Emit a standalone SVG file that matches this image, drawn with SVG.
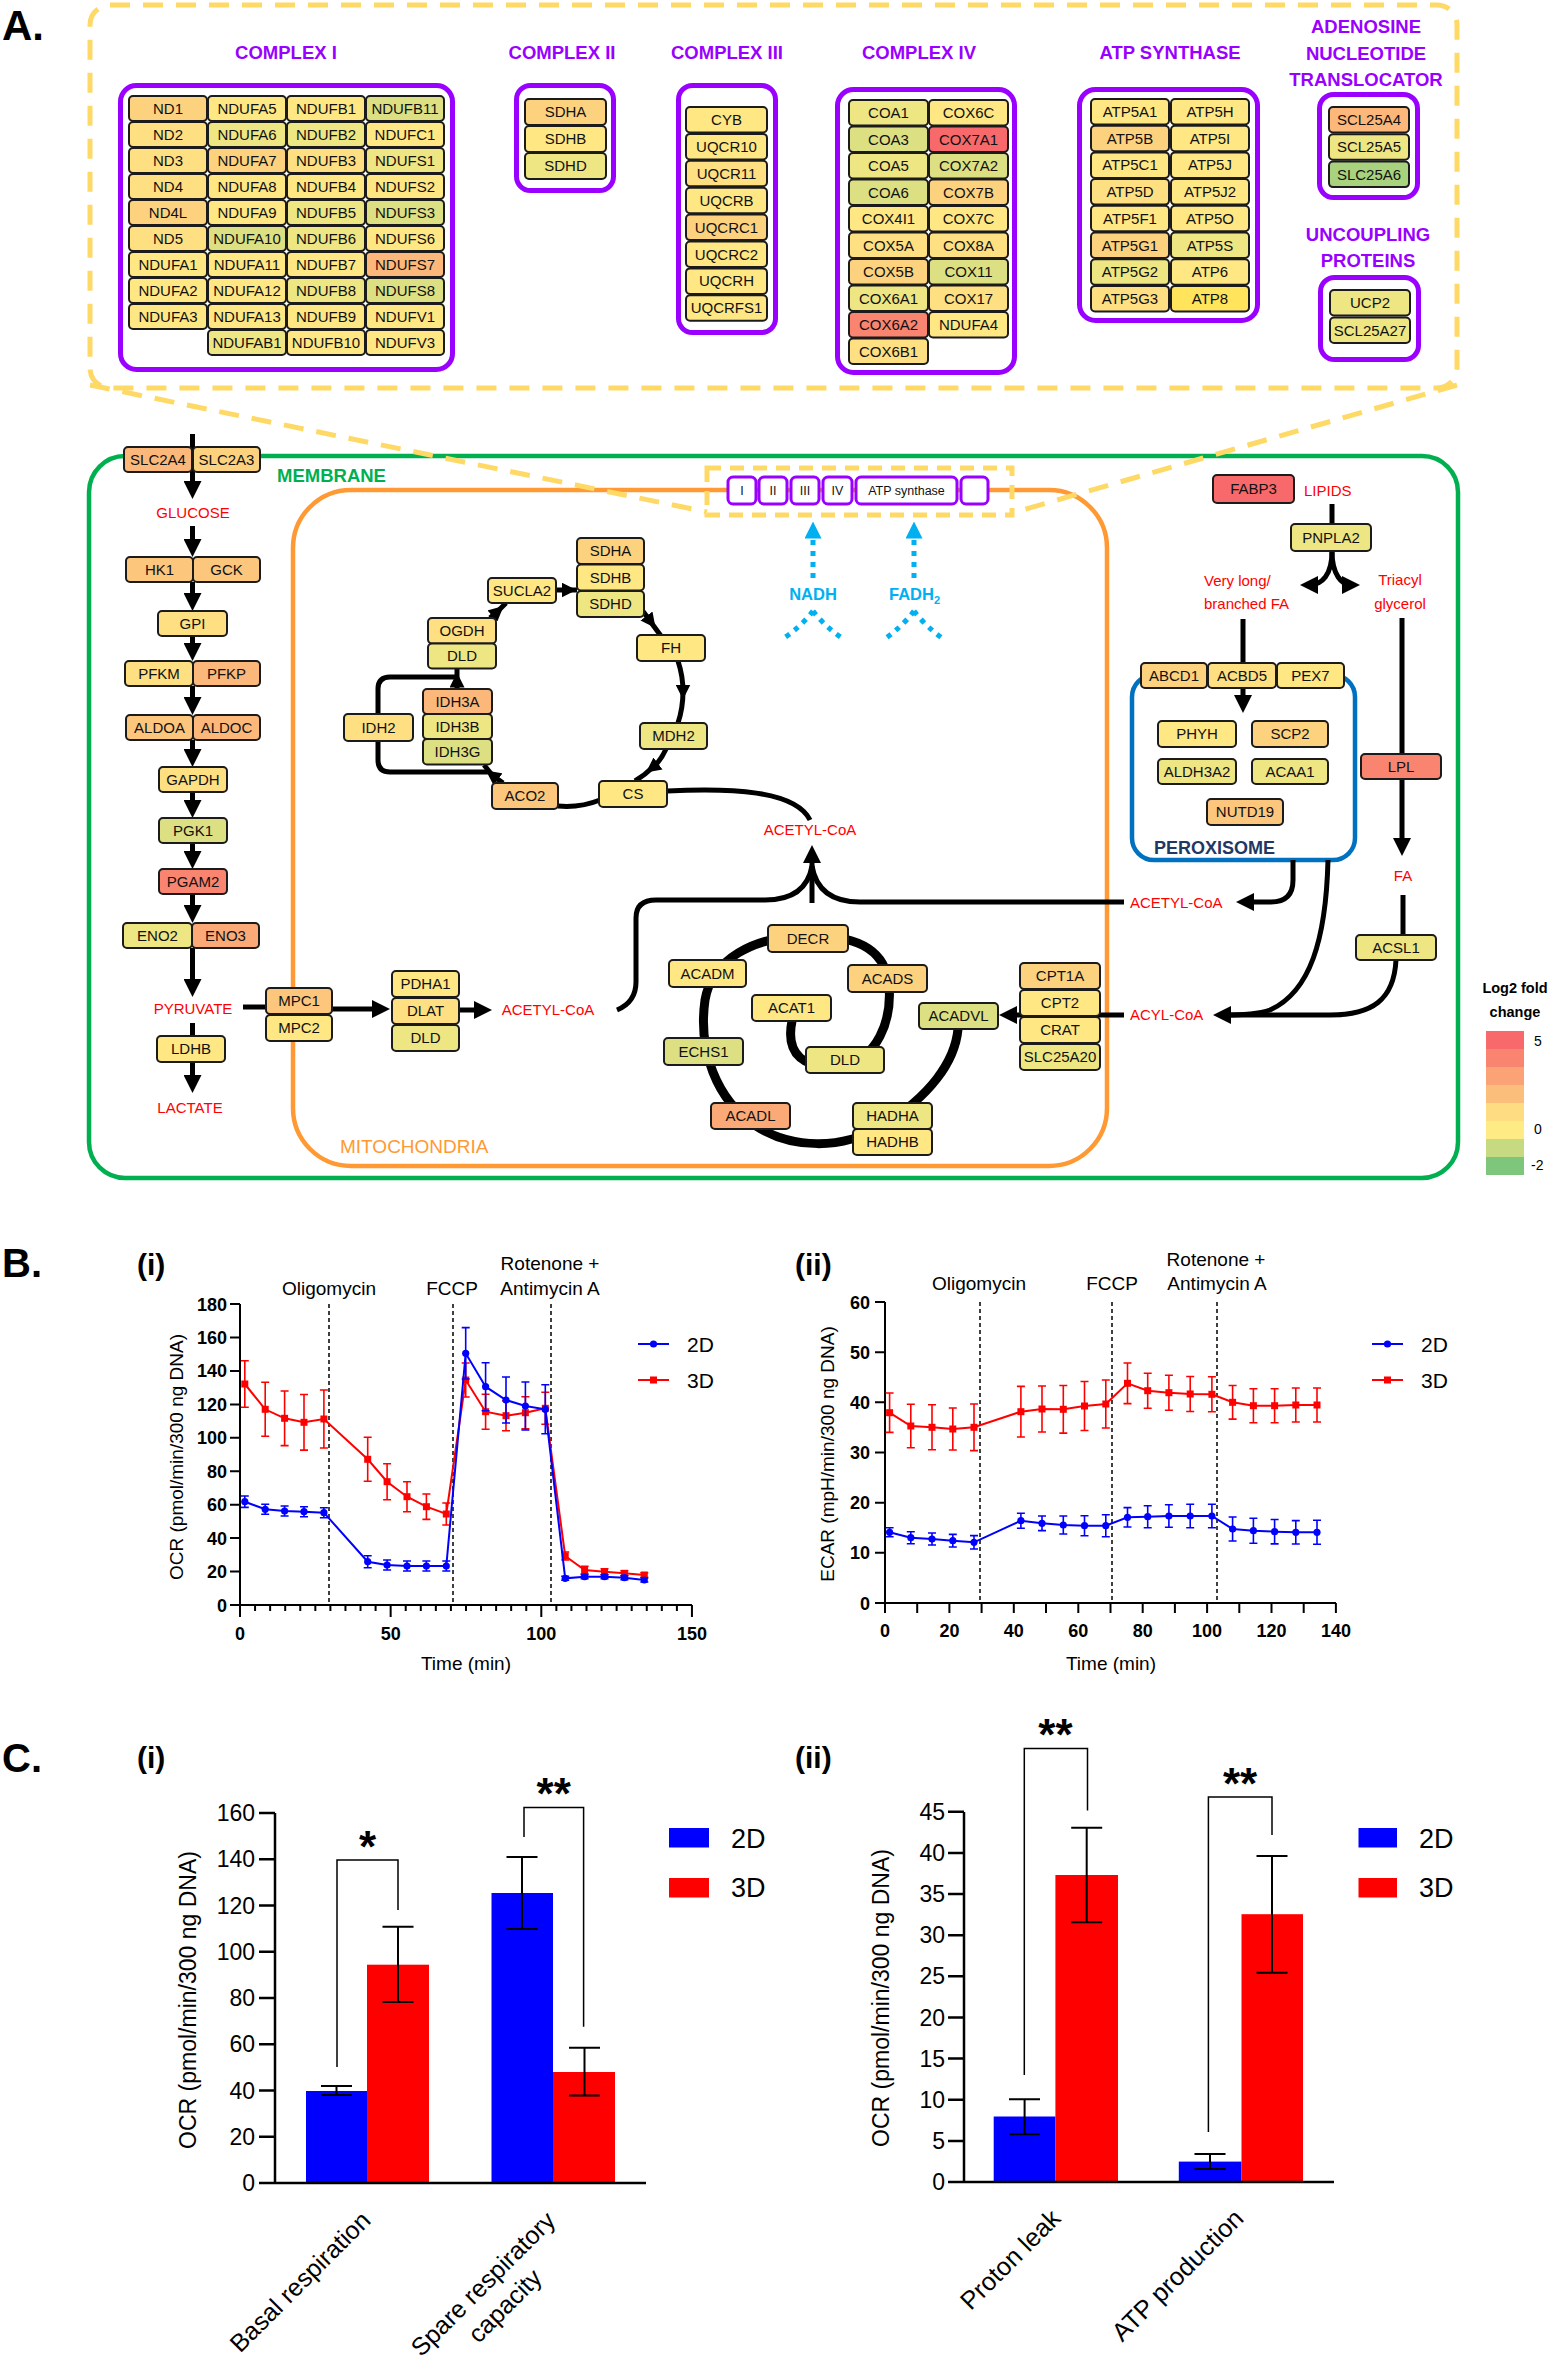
<svg xmlns="http://www.w3.org/2000/svg" xmlns:xlink="http://www.w3.org/1999/xlink" width="1554" height="2361" viewBox="0 0 1554 2361">
<defs>
<marker id="ah" viewBox="0 0 10 10" refX="5" refY="5" markerWidth="18" markerHeight="18" markerUnits="userSpaceOnUse" orient="auto"><path d="M0,0L10,5L0,10z" fill="#000"/></marker>
<marker id="as" viewBox="0 0 10 10" refX="5" refY="5" markerWidth="15" markerHeight="15" markerUnits="userSpaceOnUse" orient="auto"><path d="M0,0L10,5L0,10z" fill="#000"/></marker>
<marker id="bh" viewBox="0 0 10 10" refX="5" refY="5" markerWidth="17" markerHeight="17" markerUnits="userSpaceOnUse" orient="auto"><path d="M0,0L10,5L0,10z" fill="#00B0F0"/></marker>
<rect id="sq" x="-3.5" y="-3.5" width="7" height="7"/>
<circle id="dot" cx="0" cy="0" r="3.6"/>
</defs>
<style>
text{font-family:'Liberation Sans',Arial,sans-serif}
.cell rect{stroke:#1b1b1b;stroke-width:2}
.cell text{font-size:15px;text-anchor:middle;fill:#111}
.Y{fill:#FFE784}.Y2{fill:#FEDF81}.L{fill:#FDD27F}.L2{fill:#FCC67D}.O{fill:#FCB87A}.O2{fill:#FBAA77}.S{fill:#F98570}.R{fill:#F8696B}.G1{fill:#EEE583}.G2{fill:#DCE083}.G4{fill:#A9D27F}.Y3{fill:#FFE45C}
.pbox{fill:none;stroke:#9900FF;stroke-width:5}
.hd{font-weight:bold;font-size:18.5px;fill:#9900FF;text-anchor:middle}
.m{font-size:15px;fill:#FF0000}
.k{fill:none;stroke:#000;stroke-width:5}
.kd{fill:none;stroke:#000;stroke-width:5;marker-end:url(#ah)}
.ks{fill:none;stroke:#000;stroke-width:5;marker-end:url(#as)}
.bd{fill:none;stroke:#00B0F0;stroke-width:5;stroke-dasharray:5 6}
.yd{fill:none;stroke:#FFD966;stroke-width:5;stroke-dasharray:20 13}
.etc rect{fill:#fff;stroke:#9900FF;stroke-width:3}
.etc text{font-size:12.5px;text-anchor:middle;fill:#111}
.ax{fill:none;stroke:#000;stroke-width:2}
.tk{font-size:18px;font-weight:bold;fill:#000}
.an{font-size:19px;fill:#000;text-anchor:middle}
.ct{font-size:23px;fill:#000;text-anchor:end}
</style>
<rect width="1554" height="2361" fill="#fff"/>

<!-- Panel A top zoom box -->
<text x="2" y="40" font-size="42" font-weight="bold">A.</text>
<rect class="yd" x="90" y="5" width="1367" height="383" rx="20"/>

<g id="complex-I">
<text class="hd" x="286" y="59">COMPLEX I</text>
<rect class="pbox" x="120.5" y="85.5" width="332" height="284" rx="16"/>
<g id="n-ND1" class="cell"><rect class="L" x="129" y="96" width="78" height="25" rx="4"/><text x="168" y="113.5">ND1</text></g>
<g id="n-NDUFA5" class="cell"><rect class="Y" x="208" y="96" width="78" height="25" rx="4"/><text x="247" y="113.5">NDUFA5</text></g>
<g id="n-NDUFB1" class="cell"><rect class="Y" x="287" y="96" width="78" height="25" rx="4"/><text x="326" y="113.5">NDUFB1</text></g>
<g id="n-NDUFB11" class="cell"><rect class="G2" x="366" y="96" width="78" height="25" rx="4"/><text x="405" y="113.5">NDUFB11</text></g>
<g id="n-ND2" class="cell"><rect class="Y2" x="129" y="122" width="78" height="25" rx="4"/><text x="168" y="139.5">ND2</text></g>
<g id="n-NDUFA6" class="cell"><rect class="G1" x="208" y="122" width="78" height="25" rx="4"/><text x="247" y="139.5">NDUFA6</text></g>
<g id="n-NDUFB2" class="cell"><rect class="G1" x="287" y="122" width="78" height="25" rx="4"/><text x="326" y="139.5">NDUFB2</text></g>
<g id="n-NDUFC1" class="cell"><rect class="Y" x="366" y="122" width="78" height="25" rx="4"/><text x="405" y="139.5">NDUFC1</text></g>
<g id="n-ND3" class="cell"><rect class="Y2" x="129" y="148" width="78" height="25" rx="4"/><text x="168" y="165.5">ND3</text></g>
<g id="n-NDUFA7" class="cell"><rect class="L" x="208" y="148" width="78" height="25" rx="4"/><text x="247" y="165.5">NDUFA7</text></g>
<g id="n-NDUFB3" class="cell"><rect class="Y2" x="287" y="148" width="78" height="25" rx="4"/><text x="326" y="165.5">NDUFB3</text></g>
<g id="n-NDUFS1" class="cell"><rect class="G1" x="366" y="148" width="78" height="25" rx="4"/><text x="405" y="165.5">NDUFS1</text></g>
<g id="n-ND4" class="cell"><rect class="Y2" x="129" y="174" width="78" height="25" rx="4"/><text x="168" y="191.5">ND4</text></g>
<g id="n-NDUFA8" class="cell"><rect class="Y" x="208" y="174" width="78" height="25" rx="4"/><text x="247" y="191.5">NDUFA8</text></g>
<g id="n-NDUFB4" class="cell"><rect class="Y" x="287" y="174" width="78" height="25" rx="4"/><text x="326" y="191.5">NDUFB4</text></g>
<g id="n-NDUFS2" class="cell"><rect class="Y" x="366" y="174" width="78" height="25" rx="4"/><text x="405" y="191.5">NDUFS2</text></g>
<g id="n-ND4L" class="cell"><rect class="L" x="129" y="200" width="78" height="25" rx="4"/><text x="168" y="217.5">ND4L</text></g>
<g id="n-NDUFA9" class="cell"><rect class="Y" x="208" y="200" width="78" height="25" rx="4"/><text x="247" y="217.5">NDUFA9</text></g>
<g id="n-NDUFB5" class="cell"><rect class="G1" x="287" y="200" width="78" height="25" rx="4"/><text x="326" y="217.5">NDUFB5</text></g>
<g id="n-NDUFS3" class="cell"><rect class="G2" x="366" y="200" width="78" height="25" rx="4"/><text x="405" y="217.5">NDUFS3</text></g>
<g id="n-ND5" class="cell"><rect class="Y2" x="129" y="226" width="78" height="25" rx="4"/><text x="168" y="243.5">ND5</text></g>
<g id="n-NDUFA10" class="cell"><rect class="G2" x="208" y="226" width="78" height="25" rx="4"/><text x="247" y="243.5">NDUFA10</text></g>
<g id="n-NDUFB6" class="cell"><rect class="G1" x="287" y="226" width="78" height="25" rx="4"/><text x="326" y="243.5">NDUFB6</text></g>
<g id="n-NDUFS6" class="cell"><rect class="Y" x="366" y="226" width="78" height="25" rx="4"/><text x="405" y="243.5">NDUFS6</text></g>
<g id="n-NDUFA1" class="cell"><rect class="Y" x="129" y="252" width="78" height="25" rx="4"/><text x="168" y="269.5">NDUFA1</text></g>
<g id="n-NDUFA11" class="cell"><rect class="Y" x="208" y="252" width="78" height="25" rx="4"/><text x="247" y="269.5">NDUFA11</text></g>
<g id="n-NDUFB7" class="cell"><rect class="Y" x="287" y="252" width="78" height="25" rx="4"/><text x="326" y="269.5">NDUFB7</text></g>
<g id="n-NDUFS7" class="cell"><rect class="O" x="366" y="252" width="78" height="25" rx="4"/><text x="405" y="269.5">NDUFS7</text></g>
<g id="n-NDUFA2" class="cell"><rect class="Y" x="129" y="278" width="78" height="25" rx="4"/><text x="168" y="295.5">NDUFA2</text></g>
<g id="n-NDUFA12" class="cell"><rect class="Y" x="208" y="278" width="78" height="25" rx="4"/><text x="247" y="295.5">NDUFA12</text></g>
<g id="n-NDUFB8" class="cell"><rect class="G1" x="287" y="278" width="78" height="25" rx="4"/><text x="326" y="295.5">NDUFB8</text></g>
<g id="n-NDUFS8" class="cell"><rect class="G2" x="366" y="278" width="78" height="25" rx="4"/><text x="405" y="295.5">NDUFS8</text></g>
<g id="n-NDUFA3" class="cell"><rect class="Y" x="129" y="304" width="78" height="25" rx="4"/><text x="168" y="321.5">NDUFA3</text></g>
<g id="n-NDUFA13" class="cell"><rect class="Y" x="208" y="304" width="78" height="25" rx="4"/><text x="247" y="321.5">NDUFA13</text></g>
<g id="n-NDUFB9" class="cell"><rect class="Y" x="287" y="304" width="78" height="25" rx="4"/><text x="326" y="321.5">NDUFB9</text></g>
<g id="n-NDUFV1" class="cell"><rect class="Y" x="366" y="304" width="78" height="25" rx="4"/><text x="405" y="321.5">NDUFV1</text></g>
<g id="n-NDUFAB1" class="cell"><rect class="G1" x="208" y="330" width="78" height="25" rx="4"/><text x="247" y="347.5">NDUFAB1</text></g>
<g id="n-NDUFB10" class="cell"><rect class="Y" x="287" y="330" width="78" height="25" rx="4"/><text x="326" y="347.5">NDUFB10</text></g>
<g id="n-NDUFV3" class="cell"><rect class="Y" x="366" y="330" width="78" height="25" rx="4"/><text x="405" y="347.5">NDUFV3</text></g>
</g>

<g id="complex-II">
<text class="hd" x="562" y="59">COMPLEX II</text>
<rect class="pbox" x="516.5" y="85.5" width="97" height="105" rx="14"/>
<g id="n-SDHA-c" class="cell"><rect class="L" x="525" y="99" width="81" height="26" rx="4"/><text x="565.5" y="117">SDHA</text></g>
<g id="n-SDHB-c" class="cell"><rect class="Y" x="525" y="126" width="81" height="26" rx="4"/><text x="565.5" y="144">SDHB</text></g>
<g id="n-SDHD-c" class="cell"><rect class="G1" x="525" y="153" width="81" height="26" rx="4"/><text x="565.5" y="171">SDHD</text></g>
</g>

<g id="complex-III">
<text class="hd" x="727" y="59">COMPLEX III</text>
<rect class="pbox" x="678.5" y="85.5" width="97" height="247" rx="14"/>
<g id="n-CYB" class="cell"><rect class="Y" x="686" y="107" width="81" height="25.5" rx="4"/><text x="726.5" y="125">CYB</text></g>
<g id="n-UQCR10" class="cell"><rect class="Y" x="686" y="133.9" width="81" height="25.5" rx="4"/><text x="726.5" y="151.9">UQCR10</text></g>
<g id="n-UQCR11" class="cell"><rect class="Y2" x="686" y="160.8" width="81" height="25.5" rx="4"/><text x="726.5" y="178.8">UQCR11</text></g>
<g id="n-UQCRB" class="cell"><rect class="Y" x="686" y="187.7" width="81" height="25.5" rx="4"/><text x="726.5" y="205.7">UQCRB</text></g>
<g id="n-UQCRC1" class="cell"><rect class="L" x="686" y="214.6" width="81" height="25.5" rx="4"/><text x="726.5" y="232.6">UQCRC1</text></g>
<g id="n-UQCRC2" class="cell"><rect class="Y" x="686" y="241.5" width="81" height="25.5" rx="4"/><text x="726.5" y="259.5">UQCRC2</text></g>
<g id="n-UQCRH" class="cell"><rect class="Y" x="686" y="268.4" width="81" height="25.5" rx="4"/><text x="726.5" y="286.4">UQCRH</text></g>
<g id="n-UQCRFS1" class="cell"><rect class="Y" x="686" y="295.3" width="81" height="25.5" rx="4"/><text x="726.5" y="313.3">UQCRFS1</text></g>
</g>

<g id="complex-IV">
<text class="hd" x="919" y="59">COMPLEX IV</text>
<rect class="pbox" x="837.5" y="89.5" width="177" height="283" rx="16"/>
<g id="n-COA1" class="cell"><rect class="G1" x="849" y="100" width="79" height="25.5" rx="4"/><text x="888.5" y="118">COA1</text></g>
<g id="n-COX6C" class="cell"><rect class="Y" x="929" y="100" width="79" height="25.5" rx="4"/><text x="968.5" y="118">COX6C</text></g>
<g id="n-COA3" class="cell"><rect class="G2" x="849" y="126.5" width="79" height="25.5" rx="4"/><text x="888.5" y="144.5">COA3</text></g>
<g id="n-COX7A1" class="cell"><rect class="R" x="929" y="126.5" width="79" height="25.5" rx="4"/><text x="968.5" y="144.5">COX7A1</text></g>
<g id="n-COA5" class="cell"><rect class="G1" x="849" y="153" width="79" height="25.5" rx="4"/><text x="888.5" y="171">COA5</text></g>
<g id="n-COX7A2" class="cell"><rect class="G2" x="929" y="153" width="79" height="25.5" rx="4"/><text x="968.5" y="171">COX7A2</text></g>
<g id="n-COA6" class="cell"><rect class="G2" x="849" y="179.5" width="79" height="25.5" rx="4"/><text x="888.5" y="197.5">COA6</text></g>
<g id="n-COX7B" class="cell"><rect class="L" x="929" y="179.5" width="79" height="25.5" rx="4"/><text x="968.5" y="197.5">COX7B</text></g>
<g id="n-COX4I1" class="cell"><rect class="Y" x="849" y="206" width="79" height="25.5" rx="4"/><text x="888.5" y="224">COX4I1</text></g>
<g id="n-COX7C" class="cell"><rect class="Y" x="929" y="206" width="79" height="25.5" rx="4"/><text x="968.5" y="224">COX7C</text></g>
<g id="n-COX5A" class="cell"><rect class="Y2" x="849" y="232.5" width="79" height="25.5" rx="4"/><text x="888.5" y="250.5">COX5A</text></g>
<g id="n-COX8A" class="cell"><rect class="Y2" x="929" y="232.5" width="79" height="25.5" rx="4"/><text x="968.5" y="250.5">COX8A</text></g>
<g id="n-COX5B" class="cell"><rect class="L" x="849" y="259" width="79" height="25.5" rx="4"/><text x="888.5" y="277">COX5B</text></g>
<g id="n-COX11" class="cell"><rect class="G2" x="929" y="259" width="79" height="25.5" rx="4"/><text x="968.5" y="277">COX11</text></g>
<g id="n-COX6A1" class="cell"><rect class="G1" x="849" y="285.5" width="79" height="25.5" rx="4"/><text x="888.5" y="303.5">COX6A1</text></g>
<g id="n-COX17" class="cell"><rect class="Y2" x="929" y="285.5" width="79" height="25.5" rx="4"/><text x="968.5" y="303.5">COX17</text></g>
<g id="n-COX6A2" class="cell"><rect class="S" x="849" y="312" width="79" height="25.5" rx="4"/><text x="888.5" y="330">COX6A2</text></g>
<g id="n-NDUFA4" class="cell"><rect class="Y" x="929" y="312" width="79" height="25.5" rx="4"/><text x="968.5" y="330">NDUFA4</text></g>
<g id="n-COX6B1" class="cell"><rect class="Y2" x="849" y="338.5" width="79" height="25.5" rx="4"/><text x="888.5" y="356.5">COX6B1</text></g>
</g>

<g id="atp-synthase">
<text class="hd" x="1170" y="59">ATP SYNTHASE</text>
<rect class="pbox" x="1079.5" y="89.5" width="178" height="231" rx="16"/>
<g id="n-ATP5A1" class="cell"><rect class="Y" x="1091" y="99" width="78" height="25.5" rx="4"/><text x="1130" y="117">ATP5A1</text></g>
<g id="n-ATP5H" class="cell"><rect class="Y" x="1171" y="99" width="78" height="25.5" rx="4"/><text x="1210" y="117">ATP5H</text></g>
<g id="n-ATP5B" class="cell"><rect class="L" x="1091" y="125.7" width="78" height="25.5" rx="4"/><text x="1130" y="143.7">ATP5B</text></g>
<g id="n-ATP5I" class="cell"><rect class="Y" x="1171" y="125.7" width="78" height="25.5" rx="4"/><text x="1210" y="143.7">ATP5I</text></g>
<g id="n-ATP5C1" class="cell"><rect class="Y" x="1091" y="152.4" width="78" height="25.5" rx="4"/><text x="1130" y="170.4">ATP5C1</text></g>
<g id="n-ATP5J" class="cell"><rect class="Y" x="1171" y="152.4" width="78" height="25.5" rx="4"/><text x="1210" y="170.4">ATP5J</text></g>
<g id="n-ATP5D" class="cell"><rect class="Y2" x="1091" y="179.1" width="78" height="25.5" rx="4"/><text x="1130" y="197.1">ATP5D</text></g>
<g id="n-ATP5J2" class="cell"><rect class="Y" x="1171" y="179.1" width="78" height="25.5" rx="4"/><text x="1210" y="197.1">ATP5J2</text></g>
<g id="n-ATP5F1" class="cell"><rect class="Y" x="1091" y="205.8" width="78" height="25.5" rx="4"/><text x="1130" y="223.8">ATP5F1</text></g>
<g id="n-ATP5O" class="cell"><rect class="Y" x="1171" y="205.8" width="78" height="25.5" rx="4"/><text x="1210" y="223.8">ATP5O</text></g>
<g id="n-ATP5G1" class="cell"><rect class="L" x="1091" y="232.5" width="78" height="25.5" rx="4"/><text x="1130" y="250.5">ATP5G1</text></g>
<g id="n-ATP5S" class="cell"><rect class="G1" x="1171" y="232.5" width="78" height="25.5" rx="4"/><text x="1210" y="250.5">ATP5S</text></g>
<g id="n-ATP5G2" class="cell"><rect class="G1" x="1091" y="259.2" width="78" height="25.5" rx="4"/><text x="1130" y="277.2">ATP5G2</text></g>
<g id="n-ATP6" class="cell"><rect class="Y" x="1171" y="259.2" width="78" height="25.5" rx="4"/><text x="1210" y="277.2">ATP6</text></g>
<g id="n-ATP5G3" class="cell"><rect class="Y2" x="1091" y="285.9" width="78" height="25.5" rx="4"/><text x="1130" y="303.9">ATP5G3</text></g>
<g id="n-ATP8" class="cell"><rect class="Y3" x="1171" y="285.9" width="78" height="25.5" rx="4"/><text x="1210" y="303.9">ATP8</text></g>
</g>

<g id="ant">
<text class="hd" x="1366" y="33">ADENOSINE</text>
<text class="hd" x="1366" y="60">NUCLEOTIDE</text>
<text class="hd" x="1366" y="86">TRANSLOCATOR</text>
<rect class="pbox" x="1319.5" y="94.5" width="98" height="103" rx="14"/>
<g id="n-SCL25A4" class="cell"><rect class="O" x="1329" y="107" width="80" height="25.5" rx="4"/><text x="1369" y="125">SCL25A4</text></g>
<g id="n-SCL25A5" class="cell"><rect class="G1" x="1329" y="134.3" width="80" height="25.5" rx="4"/><text x="1369" y="152.3">SCL25A5</text></g>
<g id="n-SLC25A6" class="cell"><rect class="G4" x="1329" y="161.6" width="80" height="25.5" rx="4"/><text x="1369" y="179.6">SLC25A6</text></g>
</g>

<g id="ucp">
<text class="hd" x="1368" y="241">UNCOUPLING</text>
<text class="hd" x="1368" y="267">PROTEINS</text>
<rect class="pbox" x="1320.5" y="277.5" width="98" height="82" rx="14"/>
<g id="n-UCP2" class="cell"><rect class="G1" x="1330" y="290" width="80" height="25.5" rx="4"/><text x="1370" y="308">UCP2</text></g>
<g id="n-SCL25A27" class="cell"><rect class="G1" x="1330" y="317.5" width="80" height="25.5" rx="4"/><text x="1370" y="335.5">SCL25A27</text></g>
</g>

<!-- compartments -->
<g id="membrane">
<rect x="89" y="456" width="1369" height="722" rx="36" fill="none" stroke="#00B050" stroke-width="4.5"/>
<text x="277" y="482" font-size="18.5" font-weight="bold" fill="#00B050">MEMBRANE</text>
</g>
<g id="mitochondria">
<rect x="293" y="490" width="814" height="676" rx="58" fill="none" stroke="#FF9933" stroke-width="4.5"/>
<text x="340" y="1153" font-size="19" fill="#FF9933">MITOCHONDRIA</text>
</g>
<g id="peroxisome">
<rect x="1132" y="675" width="223" height="185" rx="22" fill="none" stroke="#0070C0" stroke-width="4.5"/>
<text x="1154" y="854" font-size="18" font-weight="bold" fill="#1F3864">PEROXISOME</text>
</g>

<!-- connectors -->
<g id="connectors">
<path class="kd" d="M192.5,434V490"/>
<path class="kd" d="M192.5,526V548"/>
<path class="kd" d="M192.5,582V602"/>
<path class="kd" d="M192.5,636V652"/>
<path class="kd" d="M192.5,686V706"/>
<path class="kd" d="M192.5,740V758"/>
<path class="kd" d="M192.5,792V809"/>
<path class="kd" d="M192.5,843V860"/>
<path class="kd" d="M192.5,894V914"/>
<path class="kd" d="M192.5,948V988"/>
<path class="k" d="M192.5,1023V1036"/>
<path class="kd" d="M192.5,1062V1084"/>
<path class="k" d="M243,1007H266"/>
<path class="kd" d="M332,1009H381"/>
<path class="kd" d="M459,1010H483"/>
<!-- TCA -->
<path class="ks" d="M556,590H569"/><path class="k" d="M568,590H577"/>
<path class="ks" d="M642,610L651,622"/><path class="k" d="M650,621L661,636"/>
<path class="ks" d="M678,661Q683,676 683,692"/><path class="k" d="M683,691Q683,708 678,723"/>
<path class="ks" d="M666,749Q660,762 652,768"/><path class="k" d="M653,767Q645,775 635,781"/>
<path class="k" d="M600,800Q580,808 558,806"/>
<path class="ks" d="M503,783L492,775"/><path class="k" d="M493,776L484,765"/>
<path class="ks" d="M457,690V680"/><path class="k" d="M457,681V668"/>
<path class="ks" d="M490,618L498,611"/><path class="k" d="M497,612L506,603"/>
<path class="k" d="M457,677H390Q378,677 378,689V760Q378,772 390,772H488"/>
<path class="k" d="M667,791C730,788 795,790 810,820"/>
<!-- beta oxidation spiral -->
<path fill="none" stroke="#000" stroke-width="9" d="M792,1021C785,1055 805,1070 840,1066C878,1060 892,1020 889,985C885,945 850,935 808,936C752,936 712,960 705,1000C698,1050 716,1100 756,1126C792,1149 842,1150 882,1126C930,1096 955,1062 958,1029"/>
<path class="k" d="M617,1010Q636,1002 636,982V918Q636,900 656,900H765Q806,900 812,866"/>
<path class="k" d="M812,866Q818,902 860,902H1124"/>
<path class="kd" d="M812,903V854"/>
<path class="kd" d="M1124,1015H1008"/>
<!-- lipids -->
<path class="k" d="M1332,504V524"/>
<path class="kd" d="M1332,551C1332,575 1322,585 1309,585"/>
<path class="kd" d="M1332,551C1332,575 1342,585 1351,585"/>
<path class="kd" d="M1243,619V704"/>
<path class="kd" d="M1402,618V847"/>
<path class="k" d="M1403,895V935"/>
<path class="kd" d="M1293,860V880Q1293,902 1271,902H1245"/>
<path class="k" d="M1396,960C1394,1000 1372,1015 1330,1015H1230"/>
<path class="kd" d="M1328,860C1326,940 1310,992 1270,1010Q1255,1015 1222,1015"/>
<!-- NADH / FADH2 -->
<path class="bd" d="M813,578V530" marker-end="url(#bh)"/>
<path class="bd" d="M813,611Q801,627 781,640M813,611Q825,627 845,640"/>
<path class="bd" d="M914,578V530" marker-end="url(#bh)"/>
<path class="bd" d="M914,611Q902,627 882,641M914,611Q926,627 946,641"/>
</g>

<!-- ETC in membrane -->
<g id="etc" class="etc">
<rect x="728" y="477" width="28" height="27" rx="5"/><text x="742" y="495">I</text>
<rect x="759" y="477" width="28" height="27" rx="5"/><text x="773" y="495">II</text>
<rect x="791" y="477" width="28" height="27" rx="5"/><text x="805" y="495">III</text>
<rect x="823" y="477" width="29" height="27" rx="5"/><text x="837.5" y="495">IV</text>
<rect x="856" y="477" width="101" height="27" rx="5"/><text x="906.5" y="495">ATP synthase</text>
<rect x="961" y="477" width="27" height="27" rx="5"/>
</g>

<!-- glycolysis nodes -->
<g id="n-SLC2A4" class="cell"><rect class="O" x="124" y="447" width="68" height="25" rx="4"/><text x="158" y="464.5">SLC2A4</text></g>
<g id="n-SLC2A3" class="cell"><rect class="L" x="193" y="447" width="67" height="25" rx="4"/><text x="226.5" y="464.5">SLC2A3</text></g>
<g id="n-HK1" class="cell"><rect class="L2" x="126" y="557" width="67" height="25" rx="4"/><text x="159.5" y="574.5">HK1</text></g>
<g id="n-GCK" class="cell"><rect class="L2" x="193" y="557" width="67" height="25" rx="4"/><text x="226.5" y="574.5">GCK</text></g>
<g id="n-GPI" class="cell"><rect class="Y2" x="158" y="611" width="69" height="25" rx="4"/><text x="192.5" y="628.5">GPI</text></g>
<g id="n-PFKM" class="cell"><rect class="Y2" x="125" y="661" width="68" height="25" rx="4"/><text x="159" y="678.5">PFKM</text></g>
<g id="n-PFKP" class="cell"><rect class="O" x="193" y="661" width="67" height="25" rx="4"/><text x="226.5" y="678.5">PFKP</text></g>
<g id="n-ALDOA" class="cell"><rect class="L2" x="126" y="715" width="67" height="25" rx="4"/><text x="159.5" y="732.5">ALDOA</text></g>
<g id="n-ALDOC" class="cell"><rect class="O" x="193" y="715" width="67" height="25" rx="4"/><text x="226.5" y="732.5">ALDOC</text></g>
<g id="n-GAPDH" class="cell"><rect class="Y2" x="159" y="767" width="68" height="25" rx="4"/><text x="193" y="784.5">GAPDH</text></g>
<g id="n-PGK1" class="cell"><rect class="G2" x="159" y="818" width="68" height="25" rx="4"/><text x="193" y="835.5">PGK1</text></g>
<g id="n-PGAM2" class="cell"><rect class="S" x="159" y="869" width="68" height="25" rx="4"/><text x="193" y="886.5">PGAM2</text></g>
<g id="n-ENO2" class="cell"><rect class="G1" x="123" y="923" width="69" height="25" rx="4"/><text x="157.5" y="940.5">ENO2</text></g>
<g id="n-ENO3" class="cell"><rect class="O2" x="192" y="923" width="67" height="25" rx="4"/><text x="225.5" y="940.5">ENO3</text></g>
<g id="n-LDHB" class="cell"><rect class="Y" x="157" y="1036" width="68" height="26" rx="4"/><text x="191" y="1054">LDHB</text></g>
<g id="n-MPC1" class="cell"><rect class="L2" x="266" y="988" width="66" height="26" rx="4"/><text x="299" y="1006">MPC1</text></g>
<g id="n-MPC2" class="cell"><rect class="Y" x="266" y="1015" width="66" height="26" rx="4"/><text x="299" y="1033">MPC2</text></g>
<g id="n-PDHA1" class="cell"><rect class="Y" x="392" y="971" width="67" height="26" rx="4"/><text x="425.5" y="989">PDHA1</text></g>
<g id="n-DLAT" class="cell"><rect class="Y2" x="392" y="998" width="67" height="26" rx="4"/><text x="425.5" y="1016">DLAT</text></g>
<g id="n-DLD-pdh" class="cell"><rect class="G1" x="392" y="1025" width="67" height="26" rx="4"/><text x="425.5" y="1043">DLD</text></g>

<!-- TCA nodes -->
<g id="n-SDHA" class="cell"><rect class="L" x="577" y="538" width="67" height="26" rx="4"/><text x="610.5" y="556">SDHA</text></g>
<g id="n-SDHB" class="cell"><rect class="Y" x="577" y="564.5" width="67" height="26" rx="4"/><text x="610.5" y="582.5">SDHB</text></g>
<g id="n-SDHD" class="cell"><rect class="G1" x="577" y="591" width="67" height="26" rx="4"/><text x="610.5" y="609">SDHD</text></g>
<g id="n-SUCLA2" class="cell"><rect class="Y" x="488" y="578" width="68" height="25" rx="4"/><text x="522" y="595.5">SUCLA2</text></g>
<g id="n-OGDH" class="cell"><rect class="Y2" x="428" y="618" width="68" height="25.5" rx="4"/><text x="462" y="636">OGDH</text></g>
<g id="n-DLD-tca" class="cell"><rect class="G1" x="428" y="643.5" width="68" height="25" rx="4"/><text x="462" y="661">DLD</text></g>
<g id="n-FH" class="cell"><rect class="Y" x="637" y="635" width="68" height="26" rx="4"/><text x="671" y="653">FH</text></g>
<g id="n-MDH2" class="cell"><rect class="G1" x="640" y="723" width="67" height="26" rx="4"/><text x="673.5" y="741">MDH2</text></g>
<g id="n-CS" class="cell"><rect class="Y" x="599" y="781" width="68" height="26" rx="4"/><text x="633" y="799">CS</text></g>
<g id="n-ACO2" class="cell"><rect class="L2" x="492" y="783" width="66" height="26" rx="4"/><text x="525" y="801">ACO2</text></g>
<g id="n-IDH3A" class="cell"><rect class="O" x="423" y="689" width="69" height="25" rx="4"/><text x="457.5" y="706.5">IDH3A</text></g>
<g id="n-IDH3B" class="cell"><rect class="G1" x="423" y="714" width="69" height="25" rx="4"/><text x="457.5" y="731.5">IDH3B</text></g>
<g id="n-IDH3G" class="cell"><rect class="G2" x="423" y="739" width="69" height="25.5" rx="4"/><text x="457.5" y="757">IDH3G</text></g>
<g id="n-IDH2" class="cell"><rect class="Y2" x="344" y="714" width="69" height="27" rx="4"/><text x="378.5" y="732.5">IDH2</text></g>

<!-- beta oxidation nodes -->
<g id="n-DECR" class="cell"><rect class="L" x="768" y="925" width="80" height="27" rx="4"/><text x="808" y="943.5">DECR</text></g>
<g id="n-ACADM" class="cell"><rect class="Y" x="669" y="960" width="77" height="27" rx="4"/><text x="707.5" y="978.5">ACADM</text></g>
<g id="n-ACADS" class="cell"><rect class="L" x="848" y="965" width="79" height="27" rx="4"/><text x="887.5" y="983.5">ACADS</text></g>
<g id="n-ACAT1" class="cell"><rect class="Y" x="752" y="995" width="79" height="26" rx="4"/><text x="791.5" y="1013">ACAT1</text></g>
<g id="n-ACADVL" class="cell"><rect class="G2" x="919" y="1003" width="79" height="26" rx="4"/><text x="958.5" y="1021">ACADVL</text></g>
<g id="n-ECHS1" class="cell"><rect class="G2" x="664" y="1038" width="79" height="27" rx="4"/><text x="703.5" y="1056.5">ECHS1</text></g>
<g id="n-DLD-box" class="cell"><rect class="G1" x="806" y="1047" width="78" height="26" rx="4"/><text x="845" y="1065">DLD</text></g>
<g id="n-ACADL" class="cell"><rect class="O2" x="711" y="1103" width="79" height="26" rx="4"/><text x="750.5" y="1121">ACADL</text></g>
<g id="n-HADHA" class="cell"><rect class="G1" x="853" y="1103" width="79" height="26" rx="4"/><text x="892.5" y="1121">HADHA</text></g>
<g id="n-HADHB" class="cell"><rect class="Y" x="853" y="1129" width="79" height="26" rx="4"/><text x="892.5" y="1147">HADHB</text></g>
<g id="n-CPT1A" class="cell"><rect class="L" x="1020" y="963" width="80" height="26" rx="4"/><text x="1060" y="981">CPT1A</text></g>
<g id="n-CPT2" class="cell"><rect class="Y" x="1020" y="990" width="80" height="26" rx="4"/><text x="1060" y="1008">CPT2</text></g>
<g id="n-CRAT" class="cell"><rect class="Y" x="1020" y="1017" width="80" height="26" rx="4"/><text x="1060" y="1035">CRAT</text></g>
<g id="n-SLC25A20" class="cell"><rect class="G1" x="1020" y="1044" width="80" height="26" rx="4"/><text x="1060" y="1062">SLC25A20</text></g>

<!-- lipid nodes -->
<g id="n-FABP3" class="cell"><rect class="R" x="1213" y="475" width="81" height="28" rx="4"/><text x="1253.5" y="494">FABP3</text></g>
<g id="n-PNPLA2" class="cell"><rect class="G1" x="1291" y="524" width="80" height="27" rx="4"/><text x="1331" y="542.5">PNPLA2</text></g>
<g id="n-ABCD1" class="cell"><rect class="L" x="1141" y="663" width="66" height="25" rx="4"/><text x="1174" y="680.5">ABCD1</text></g>
<g id="n-ACBD5" class="cell"><rect class="Y2" x="1208" y="663" width="68" height="25" rx="4"/><text x="1242" y="680.5">ACBD5</text></g>
<g id="n-PEX7" class="cell"><rect class="Y" x="1277" y="663" width="67" height="25" rx="4"/><text x="1310.5" y="680.5">PEX7</text></g>
<g id="n-PHYH" class="cell"><rect class="Y" x="1158" y="721" width="78" height="26" rx="4"/><text x="1197" y="739">PHYH</text></g>
<g id="n-SCP2" class="cell"><rect class="L" x="1252" y="721" width="76" height="26" rx="4"/><text x="1290" y="739">SCP2</text></g>
<g id="n-ALDH3A2" class="cell"><rect class="G1" x="1158" y="759" width="78" height="25" rx="4"/><text x="1197" y="776.5">ALDH3A2</text></g>
<g id="n-ACAA1" class="cell"><rect class="G1" x="1252" y="759" width="76" height="25" rx="4"/><text x="1290" y="776.5">ACAA1</text></g>
<g id="n-NUTD19" class="cell"><rect class="L2" x="1207" y="799" width="76" height="26" rx="4"/><text x="1245" y="817">NUTD19</text></g>
<g id="n-LPL" class="cell"><rect class="S" x="1361" y="754" width="80" height="25" rx="4"/><text x="1401" y="771.5">LPL</text></g>
<g id="n-ACSL1" class="cell"><rect class="G1" x="1356" y="935" width="80" height="25" rx="4"/><text x="1396" y="952.5">ACSL1</text></g>

<!-- metabolite labels -->
<g id="metabolites">
<text class="m" x="193" y="518" text-anchor="middle">GLUCOSE</text>
<text class="m" x="193" y="1014" text-anchor="middle">PYRUVATE</text>
<text class="m" x="190" y="1113" text-anchor="middle">LACTATE</text>
<text class="m" x="548" y="1015" text-anchor="middle">ACETYL-CoA</text>
<text class="m" x="810" y="835" text-anchor="middle">ACETYL-CoA</text>
<text class="m" x="1130" y="908">ACETYL-CoA</text>
<text class="m" x="1130" y="1020">ACYL-CoA</text>
<text class="m" x="1403" y="881" text-anchor="middle">FA</text>
<text class="m" x="1304" y="496" font-size="17">LIPIDS</text>
<text class="m" x="1204" y="586" font-size="16.5">Very long/</text>
<text class="m" x="1204" y="609" font-size="16.5">branched FA</text>
<text class="m" x="1400" y="585" font-size="16.5" text-anchor="middle">Triacyl</text>
<text class="m" x="1400" y="609" font-size="16.5" text-anchor="middle">glycerol</text>
<text x="813" y="600" font-size="16.5" font-weight="bold" fill="#00B0F0" text-anchor="middle">NADH</text>
<text x="889" y="600" font-size="16.5" font-weight="bold" fill="#00B0F0">FADH<tspan font-size="11" dy="4">2</tspan></text>
</g>

<!-- zoom lines -->
<rect class="yd" x="707" y="468" width="305" height="47" style="stroke-dasharray:14 9"/>
<path class="yd" d="M90,385L707,512M1457,385L1012,513"/>

<!-- legend -->
<g id="legend">
<text x="1515" y="993" font-size="14.5" font-weight="bold" text-anchor="middle">Log2 fold</text>
<text x="1515" y="1017" font-size="14.5" font-weight="bold" text-anchor="middle">change</text>
<rect x="1486" y="1031" width="38" height="18" fill="#F8696B"/>
<rect x="1486" y="1049" width="38" height="18" fill="#F98570"/>
<rect x="1486" y="1067" width="38" height="18" fill="#FBA276"/>
<rect x="1486" y="1085" width="38" height="18" fill="#FCBF7B"/>
<rect x="1486" y="1103" width="38" height="18" fill="#FEDC81"/>
<rect x="1486" y="1121" width="38" height="18" fill="#FFEB84"/>
<rect x="1486" y="1139" width="38" height="18" fill="#C6DB81"/>
<rect x="1486" y="1157" width="38" height="18" fill="#7FC67D"/>
<text x="1534" y="1046" font-size="14">5</text>
<text x="1534" y="1134" font-size="14">0</text>
<text x="1531" y="1170" font-size="14">-2</text>
</g>

<!-- Panel B(i) -->
<g id="chart-Bi">
<text x="2" y="1277" font-size="40" font-weight="bold">B.</text>
<text x="137" y="1275" font-size="30" font-weight="bold">(i)</text>
<path class="ax" d="M240,1304V1605H692"/>
<path class="ax" d="M230,1605H240M230,1571.6H240M230,1538.1H240M230,1504.7H240M230,1471.2H240M230,1437.8H240M230,1404.4H240M230,1370.9H240M230,1337.5H240M230,1304H240"/>
<path class="ax" d="M240,1605v12M255.07,1605v6M270.13,1605v6M285.2,1605v6M300.26,1605v6M315.33,1605v6M330.39,1605v6M345.46,1605v6M360.52,1605v6M375.59,1605v6M390.65,1605v12M405.72,1605v6M420.78,1605v6M435.85,1605v6M450.91,1605v6M465.98,1605v6M481.04,1605v6M496.11,1605v6M511.17,1605v6M526.24,1605v6M541.3,1605v12M556.37,1605v6M571.43,1605v6M586.5,1605v6M601.56,1605v6M616.63,1605v6M631.69,1605v6M646.76,1605v6M661.82,1605v6M676.89,1605v6M691.95,1605v12"/>
<g class="tk" text-anchor="end">
<text x="227" y="1611.5">0</text><text x="227" y="1578.1">20</text><text x="227" y="1544.6">40</text><text x="227" y="1511.2">60</text><text x="227" y="1477.7">80</text><text x="227" y="1444.3">100</text><text x="227" y="1410.9">120</text><text x="227" y="1377.4">140</text><text x="227" y="1344">160</text><text x="227" y="1310.5">180</text>
</g>
<g class="tk" text-anchor="middle">
<text x="240" y="1640">0</text><text x="390.65" y="1640">50</text><text x="541.3" y="1640">100</text><text x="691.95" y="1640">150</text>
</g>
<text class="an" x="466" y="1670" font-size="20">Time (min)</text>
<text class="an" transform="translate(183,1457) rotate(-90)" font-size="17.5">OCR (pmol/min/300 ng DNA)</text>
<path d="M329,1304V1605M453,1304V1605M551,1304V1605" stroke="#000" stroke-width="1.5" stroke-dasharray="4 3"/>
<text class="an" x="329" y="1295">Oligomycin</text>
<text class="an" x="452" y="1295">FCCP</text>
<text class="an" x="550" y="1270">Rotenone +</text>
<text class="an" x="550" y="1295">Antimycin A</text>
<g stroke="#FF0000" fill="none">
<polyline stroke-width="2" points="244.8,1384 265.2,1409.3 284.6,1418.3 304,1422.3 323.9,1419 367.7,1459.3 387.1,1481.7 407,1496.7 426.4,1506.7 446.3,1514 465.7,1380 485.6,1411.7 506,1415.7 525.4,1412.7 545.3,1408.3 565.2,1556 584.6,1570 604.5,1571.7 624.4,1573.3 644.3,1575"/>
<path stroke-width="1.6" d="M244.8,1360.7V1407.3M240.8,1360.7h8M240.8,1407.3h8M265.2,1382.3V1436.3M261.2,1382.3h8M261.2,1436.3h8M284.6,1391V1445.6M280.6,1391h8M280.6,1445.6h8M304,1394.5V1450.1M300,1394.5h8M300,1450.1h8M323.9,1390V1448M319.9,1390h8M319.9,1448h8M367.7,1437.3V1481.3M363.7,1437.3h8M363.7,1481.3h8M387.1,1463.7V1499.7M383.1,1463.7h8M383.1,1499.7h8M407,1481.7V1511.7M403,1481.7h8M403,1511.7h8M426.4,1494V1519.4M422.4,1494h8M422.4,1519.4h8M446.3,1503V1525M442.3,1503h8M442.3,1525h8M465.7,1363V1397M461.7,1363h8M461.7,1397h8M485.6,1394.2V1429.2M481.6,1394.2h8M481.6,1429.2h8M506,1400.7V1430.7M502,1400.7h8M502,1430.7h8M525.4,1396.7V1428.7M521.4,1396.7h8M521.4,1428.7h8M545.3,1392.3V1424.3M541.3,1392.3h8M541.3,1424.3h8M565.2,1552V1560M561.2,1552h8M561.2,1560h8M584.6,1566.3V1573.7M580.6,1566.3h8M580.6,1573.7h8M604.5,1568.7V1574.7M600.5,1568.7h8M600.5,1574.7h8M624.4,1570.8V1575.8M620.4,1570.8h8M620.4,1575.8h8M644.3,1572.7V1577.3M640.3,1572.7h8M640.3,1577.3h8"/>
</g>
<g fill="#FF0000">
<use href="#sq" x="244.8" y="1384"/><use href="#sq" x="265.2" y="1409.3"/><use href="#sq" x="284.6" y="1418.3"/><use href="#sq" x="304" y="1422.3"/><use href="#sq" x="323.9" y="1419"/><use href="#sq" x="367.7" y="1459.3"/><use href="#sq" x="387.1" y="1481.7"/><use href="#sq" x="407" y="1496.7"/><use href="#sq" x="426.4" y="1506.7"/><use href="#sq" x="446.3" y="1514"/><use href="#sq" x="465.7" y="1380"/><use href="#sq" x="485.6" y="1411.7"/><use href="#sq" x="506" y="1415.7"/><use href="#sq" x="525.4" y="1412.7"/><use href="#sq" x="545.3" y="1408.3"/><use href="#sq" x="565.2" y="1556"/><use href="#sq" x="584.6" y="1570"/><use href="#sq" x="604.5" y="1571.7"/><use href="#sq" x="624.4" y="1573.3"/><use href="#sq" x="644.3" y="1575"/>
</g>
<g stroke="#0000FF" fill="none">
<polyline stroke-width="2" points="244.8,1501.7 265.2,1509.3 284.6,1511 304,1511.7 323.9,1512.7 367.7,1561.7 387.1,1565 407,1566 426.4,1566 446.3,1566 465.7,1353.3 485.6,1386.7 506,1400 525.4,1406 545.3,1409.3 565.2,1578.3 584.6,1576.7 604.5,1576.7 624.4,1577.7 644.3,1580"/>
<path stroke-width="1.6" d="M244.8,1496V1507.4M240.8,1496h8M240.8,1507.4h8M265.2,1504.3V1514.3M261.2,1504.3h8M261.2,1514.3h8M284.6,1506V1516M280.6,1506h8M280.6,1516h8M304,1506.7V1516.7M300,1506.7h8M300,1516.7h8M323.9,1507.7V1517.7M319.9,1507.7h8M319.9,1517.7h8M367.7,1555.7V1567.7M363.7,1555.7h8M363.7,1567.7h8M387.1,1560V1570M383.1,1560h8M383.1,1570h8M407,1561V1571M403,1561h8M403,1571h8M426.4,1561V1571M422.4,1561h8M422.4,1571h8M446.3,1561V1571M442.3,1561h8M442.3,1571h8M465.7,1327.6V1379M461.7,1327.6h8M461.7,1379h8M485.6,1362.7V1410.7M481.6,1362.7h8M481.6,1410.7h8M506,1377V1423M502,1377h8M502,1423h8M525.4,1382V1430M521.4,1382h8M521.4,1430h8M545.3,1384.8V1433.8M541.3,1384.8h8M541.3,1433.8h8M565.2,1576.3V1580.3M561.2,1576.3h8M561.2,1580.3h8M584.6,1574.7V1578.7M580.6,1574.7h8M580.6,1578.7h8M604.5,1574.7V1578.7M600.5,1574.7h8M600.5,1578.7h8M624.4,1575.7V1579.7M620.4,1575.7h8M620.4,1579.7h8M644.3,1578V1582M640.3,1578h8M640.3,1582h8"/>
</g>
<g fill="#0000FF">
<use href="#dot" x="244.8" y="1501.7"/><use href="#dot" x="265.2" y="1509.3"/><use href="#dot" x="284.6" y="1511"/><use href="#dot" x="304" y="1511.7"/><use href="#dot" x="323.9" y="1512.7"/><use href="#dot" x="367.7" y="1561.7"/><use href="#dot" x="387.1" y="1565"/><use href="#dot" x="407" y="1566"/><use href="#dot" x="426.4" y="1566"/><use href="#dot" x="446.3" y="1566"/><use href="#dot" x="465.7" y="1353.3"/><use href="#dot" x="485.6" y="1386.7"/><use href="#dot" x="506" y="1400"/><use href="#dot" x="525.4" y="1406"/><use href="#dot" x="545.3" y="1409.3"/><use href="#dot" x="565.2" y="1578.3"/><use href="#dot" x="584.6" y="1576.7"/><use href="#dot" x="604.5" y="1576.7"/><use href="#dot" x="624.4" y="1577.7"/><use href="#dot" x="644.3" y="1580"/>
</g>
<path d="M638,1344H669" stroke="#0000FF" stroke-width="2"/><use href="#dot" x="653.5" y="1344" fill="#0000FF"/>
<text x="687" y="1352" font-size="21">2D</text>
<path d="M638,1380H669" stroke="#FF0000" stroke-width="2"/><use href="#sq" x="653.5" y="1380" fill="#FF0000"/>
<text x="687" y="1388" font-size="21">3D</text>
</g>

<!-- Panel B(ii) -->
<g id="chart-Bii">
<text x="795" y="1275" font-size="30" font-weight="bold">(ii)</text>
<path class="ax" d="M885,1302V1603H1336"/>
<path class="ax" d="M875,1603H885M875,1552.8H885M875,1502.7H885M875,1452.5H885M875,1402.3H885M875,1352.2H885M875,1302H885"/>
<path class="ax" d="M885,1603v10M917.2,1603v10M949.4,1603v10M981.6,1603v10M1013.8,1603v10M1046,1603v10M1078.3,1603v10M1110.5,1603v10M1142.7,1603v10M1174.9,1603v10M1207.1,1603v10M1239.3,1603v10M1271.5,1603v10M1303.7,1603v10M1335.9,1603v10"/>
<g class="tk" text-anchor="end">
<text x="870" y="1609.5">0</text><text x="870" y="1559.3">10</text><text x="870" y="1509.2">20</text><text x="870" y="1459">30</text><text x="870" y="1408.8">40</text><text x="870" y="1358.7">50</text><text x="870" y="1308.5">60</text>
</g>
<g class="tk" text-anchor="middle">
<text x="885" y="1637">0</text><text x="949.4" y="1637">20</text><text x="1013.8" y="1637">40</text><text x="1078.3" y="1637">60</text><text x="1142.7" y="1637">80</text><text x="1207.1" y="1637">100</text><text x="1271.5" y="1637">120</text><text x="1335.9" y="1637">140</text>
</g>
<text class="an" x="1111" y="1670" font-size="20">Time (min)</text>
<text class="an" transform="translate(834,1454) rotate(-90)" font-size="17.5">ECAR (mpH/min/300 ng DNA)</text>
<path d="M980,1302V1603M1112,1302V1603M1217,1302V1603" stroke="#000" stroke-width="1.5" stroke-dasharray="4 3"/>
<text class="an" x="979" y="1290">Oligomycin</text>
<text class="an" x="1112" y="1290">FCCP</text>
<text class="an" x="1216" y="1266">Rotenone +</text>
<text class="an" x="1217" y="1290">Antimycin A</text>
<g stroke="#FF0000" fill="none">
<polyline stroke-width="2" points="889.6,1412.7 910.8,1426 932,1427.3 952.8,1429 974,1427.3 1020.9,1411.7 1042,1409 1063.3,1409.3 1084.5,1406 1105.8,1404 1127.5,1383.3 1147.7,1390.7 1168.9,1392.7 1190.2,1394 1211.9,1394.3 1232.6,1402.3 1253.4,1405.7 1274.6,1405.7 1295.8,1405 1317,1405"/>
<path stroke-width="1.6" d="M889.6,1393V1432.4M885.6,1393h8M885.6,1432.4h8M910.8,1404.3V1447.7M906.8,1404.3h8M906.8,1447.7h8M932,1404.8V1449.8M928,1404.8h8M928,1449.8h8M952.8,1408V1450M948.8,1408h8M948.8,1450h8M974,1404V1450.6M970,1404h8M970,1450.6h8M1020.9,1386.4V1437M1016.9,1386.4h8M1016.9,1437h8M1042,1386V1432M1038,1386h8M1038,1432h8M1063.3,1385.5V1433.1M1059.3,1385.5h8M1059.3,1433.1h8M1084.5,1381.5V1430.5M1080.5,1381.5h8M1080.5,1430.5h8M1105.8,1380V1428M1101.8,1380h8M1101.8,1428h8M1127.5,1363V1403.6M1123.5,1363h8M1123.5,1403.6h8M1147.7,1373.2V1408.2M1143.7,1373.2h8M1143.7,1408.2h8M1168.9,1375.2V1410.2M1164.9,1375.2h8M1164.9,1410.2h8M1190.2,1376.5V1411.5M1186.2,1376.5h8M1186.2,1411.5h8M1211.9,1376.8V1411.8M1207.9,1376.8h8M1207.9,1411.8h8M1232.6,1385.5V1419.1M1228.6,1385.5h8M1228.6,1419.1h8M1253.4,1388.7V1422.7M1249.4,1388.7h8M1249.4,1422.7h8M1274.6,1388.7V1422.7M1270.6,1388.7h8M1270.6,1422.7h8M1295.8,1388V1422M1291.8,1388h8M1291.8,1422h8M1317,1388V1422M1313,1388h8M1313,1422h8"/>
</g>
<g fill="#FF0000">
<use href="#sq" x="889.6" y="1412.7"/><use href="#sq" x="910.8" y="1426"/><use href="#sq" x="932" y="1427.3"/><use href="#sq" x="952.8" y="1429"/><use href="#sq" x="974" y="1427.3"/><use href="#sq" x="1020.9" y="1411.7"/><use href="#sq" x="1042" y="1409"/><use href="#sq" x="1063.3" y="1409.3"/><use href="#sq" x="1084.5" y="1406"/><use href="#sq" x="1105.8" y="1404"/><use href="#sq" x="1127.5" y="1383.3"/><use href="#sq" x="1147.7" y="1390.7"/><use href="#sq" x="1168.9" y="1392.7"/><use href="#sq" x="1190.2" y="1394"/><use href="#sq" x="1211.9" y="1394.3"/><use href="#sq" x="1232.6" y="1402.3"/><use href="#sq" x="1253.4" y="1405.7"/><use href="#sq" x="1274.6" y="1405.7"/><use href="#sq" x="1295.8" y="1405"/><use href="#sq" x="1317" y="1405"/>
</g>
<g stroke="#0000FF" fill="none">
<polyline stroke-width="2" points="889.6,1532.3 910.8,1537.7 932,1539 952.8,1540.7 974,1542.3 1020.9,1520.7 1042,1523.3 1063.3,1525 1084.5,1525.7 1105.8,1525.7 1127.5,1517.3 1147.7,1516.7 1168.9,1516 1190.2,1516 1211.9,1516 1232.6,1529 1253.4,1530.7 1274.6,1531.7 1295.8,1532.3 1317,1532.3"/>
<path stroke-width="1.6" d="M889.6,1527.8V1536.8M885.6,1527.8h8M885.6,1536.8h8M910.8,1531.7V1543.7M906.8,1531.7h8M906.8,1543.7h8M932,1533V1545M928,1533h8M928,1545h8M952.8,1534.4V1547M948.8,1534.4h8M948.8,1547h8M974,1535.6V1549M970,1535.6h8M970,1549h8M1020.9,1513.2V1528.2M1016.9,1513.2h8M1016.9,1528.2h8M1042,1516V1530.6M1038,1516h8M1038,1530.6h8M1063.3,1516V1534M1059.3,1516h8M1059.3,1534h8M1084.5,1515.7V1535.7M1080.5,1515.7h8M1080.5,1535.7h8M1105.8,1514.7V1536.7M1101.8,1514.7h8M1101.8,1536.7h8M1127.5,1507.6V1527M1123.5,1507.6h8M1123.5,1527h8M1147.7,1505.7V1527.7M1143.7,1505.7h8M1143.7,1527.7h8M1168.9,1504.7V1527.3M1164.9,1504.7h8M1164.9,1527.3h8M1190.2,1504.3V1527.7M1186.2,1504.3h8M1186.2,1527.7h8M1211.9,1504.3V1527.7M1207.9,1504.3h8M1207.9,1527.7h8M1232.6,1517V1541M1228.6,1517h8M1228.6,1541h8M1253.4,1518.2V1543.2M1249.4,1518.2h8M1249.4,1543.2h8M1274.6,1519.5V1543.9M1270.6,1519.5h8M1270.6,1543.9h8M1295.8,1520.6V1544M1291.8,1520.6h8M1291.8,1544h8M1317,1520.3V1544.3M1313,1520.3h8M1313,1544.3h8"/>
</g>
<g fill="#0000FF">
<use href="#dot" x="889.6" y="1532.3"/><use href="#dot" x="910.8" y="1537.7"/><use href="#dot" x="932" y="1539"/><use href="#dot" x="952.8" y="1540.7"/><use href="#dot" x="974" y="1542.3"/><use href="#dot" x="1020.9" y="1520.7"/><use href="#dot" x="1042" y="1523.3"/><use href="#dot" x="1063.3" y="1525"/><use href="#dot" x="1084.5" y="1525.7"/><use href="#dot" x="1105.8" y="1525.7"/><use href="#dot" x="1127.5" y="1517.3"/><use href="#dot" x="1147.7" y="1516.7"/><use href="#dot" x="1168.9" y="1516"/><use href="#dot" x="1190.2" y="1516"/><use href="#dot" x="1211.9" y="1516"/><use href="#dot" x="1232.6" y="1529"/><use href="#dot" x="1253.4" y="1530.7"/><use href="#dot" x="1274.6" y="1531.7"/><use href="#dot" x="1295.8" y="1532.3"/><use href="#dot" x="1317" y="1532.3"/>
</g>
<path d="M1372,1344H1403" stroke="#0000FF" stroke-width="2"/><use href="#dot" x="1387.5" y="1344" fill="#0000FF"/>
<text x="1421" y="1352" font-size="21">2D</text>
<path d="M1372,1380H1403" stroke="#FF0000" stroke-width="2"/><use href="#sq" x="1387.5" y="1380" fill="#FF0000"/>
<text x="1421" y="1388" font-size="21">3D</text>
</g>

<!-- Panel C(i) -->
<g id="chart-Ci">
<text x="2" y="1772" font-size="40" font-weight="bold">C.</text>
<text x="137" y="1768" font-size="30" font-weight="bold">(i)</text>
<rect x="306" y="2091" width="61" height="92" fill="#0000FF"/>
<rect x="367" y="1964.7" width="62" height="218.3" fill="#FF0000"/>
<rect x="491.5" y="1893" width="61.5" height="290" fill="#0000FF"/>
<rect x="553" y="2072" width="62" height="111" fill="#FF0000"/>
<path fill="none" stroke="#000" stroke-width="2" d="M336.5,2086V2095M321,2086h31M321,2095h31M398,1926.8V2002M382.5,1926.8h31M382.5,2002h31M522,1857V1929M506.5,1857h31M506.5,1929h31M584.5,2047.8V2095.4M569,2047.8h31M569,2095.4h31"/>
<path fill="none" stroke="#000" stroke-width="2.5" d="M275,1813V2183H646M259,2183H275M259,2136.75H275M259,2090.5H275M259,2044.25H275M259,1998H275M259,1951.75H275M259,1905.5H275M259,1859.25H275M259,1813H275"/>
<path fill="none" stroke="#000" stroke-width="1.5" d="M337,2067V1860H398V1910M524,1837V1807.5H583.6V2026.7"/>
<text x="367.5" y="1862" font-size="44" font-weight="bold" text-anchor="middle">*</text>
<text x="553.7" y="1809" font-size="44" font-weight="bold" text-anchor="middle">**</text>
<g class="ct">
<text x="255" y="2191">0</text><text x="255" y="2144.75">20</text><text x="255" y="2098.5">40</text><text x="255" y="2052.25">60</text><text x="255" y="2006">80</text><text x="255" y="1959.75">100</text><text x="255" y="1913.5">120</text><text x="255" y="1867.25">140</text><text x="255" y="1821">160</text>
</g>
<text transform="translate(196,2000) rotate(-90)" font-size="23" text-anchor="middle">OCR (pmol/min/300 ng DNA)</text>
<rect x="669" y="1828" width="40" height="19.5" fill="#0000FF"/>
<text x="731" y="1848" font-size="27">2D</text>
<rect x="669" y="1878" width="40" height="19.5" fill="#FF0000"/>
<text x="731" y="1897" font-size="27">3D</text>
<text transform="translate(372,2222) rotate(-45)" font-size="25" text-anchor="end">Basal respiration</text>
<text transform="translate(489,2290) rotate(-45)" font-size="25" text-anchor="middle"><tspan x="0" y="0">Spare respiratory</tspan><tspan x="0" y="31">capacity</tspan></text>
</g>

<!-- Panel C(ii) -->
<g id="chart-Cii">
<text x="795" y="1768" font-size="30" font-weight="bold">(ii)</text>
<rect x="993.7" y="2116.5" width="61.7" height="65.5" fill="#0000FF"/>
<rect x="1055.4" y="1875" width="62.6" height="307" fill="#FF0000"/>
<rect x="1178.8" y="2161.6" width="62.7" height="20.4" fill="#0000FF"/>
<rect x="1241.5" y="1914.2" width="61.5" height="267.8" fill="#FF0000"/>
<path fill="none" stroke="#000" stroke-width="2" d="M1024.6,2099.2V2134.2M1009,2099.2h31M1009,2134.2h31M1086.7,1827.7V1922.2M1071.2,1827.7h31M1071.2,1922.2h31M1210,2154V2169M1194.5,2154h31M1194.5,2169h31M1272,1856V1972.8M1256.5,1856h31M1256.5,1972.8h31"/>
<path fill="none" stroke="#000" stroke-width="2.5" d="M964,1812V2182H1334M948,2182H964M948,2140.9H964M948,2099.7H964M948,2058.6H964M948,2017.5H964M948,1976.3H964M948,1935.2H964M948,1894.1H964M948,1852.9H964M948,1811.8H964"/>
<path fill="none" stroke="#000" stroke-width="1.5" d="M1024.3,2075V1748.5H1087.5V1810.5M1208.4,2132V1797H1272V1835"/>
<text x="1055.4" y="1750" font-size="44" font-weight="bold" text-anchor="middle">**</text>
<text x="1240" y="1799" font-size="44" font-weight="bold" text-anchor="middle">**</text>
<g class="ct">
<text x="945" y="2190">0</text><text x="945" y="2148.9">5</text><text x="945" y="2107.7">10</text><text x="945" y="2066.6">15</text><text x="945" y="2025.5">20</text><text x="945" y="1984.3">25</text><text x="945" y="1943.2">30</text><text x="945" y="1902.1">35</text><text x="945" y="1860.9">40</text><text x="945" y="1819.8">45</text>
</g>
<text transform="translate(889,1998) rotate(-90)" font-size="23" text-anchor="middle">OCR (pmol/min/300 ng DNA)</text>
<rect x="1358.5" y="1828" width="38.5" height="19.5" fill="#0000FF"/>
<text x="1419" y="1848" font-size="27">2D</text>
<rect x="1358.5" y="1878" width="38.5" height="19.5" fill="#FF0000"/>
<text x="1419" y="1897" font-size="27">3D</text>
<text transform="translate(1062,2220) rotate(-45)" font-size="25.5" text-anchor="end">Proton leak</text>
<text transform="translate(1245,2220) rotate(-45)" font-size="25.5" text-anchor="end">ATP production</text>
</g>
</svg>
